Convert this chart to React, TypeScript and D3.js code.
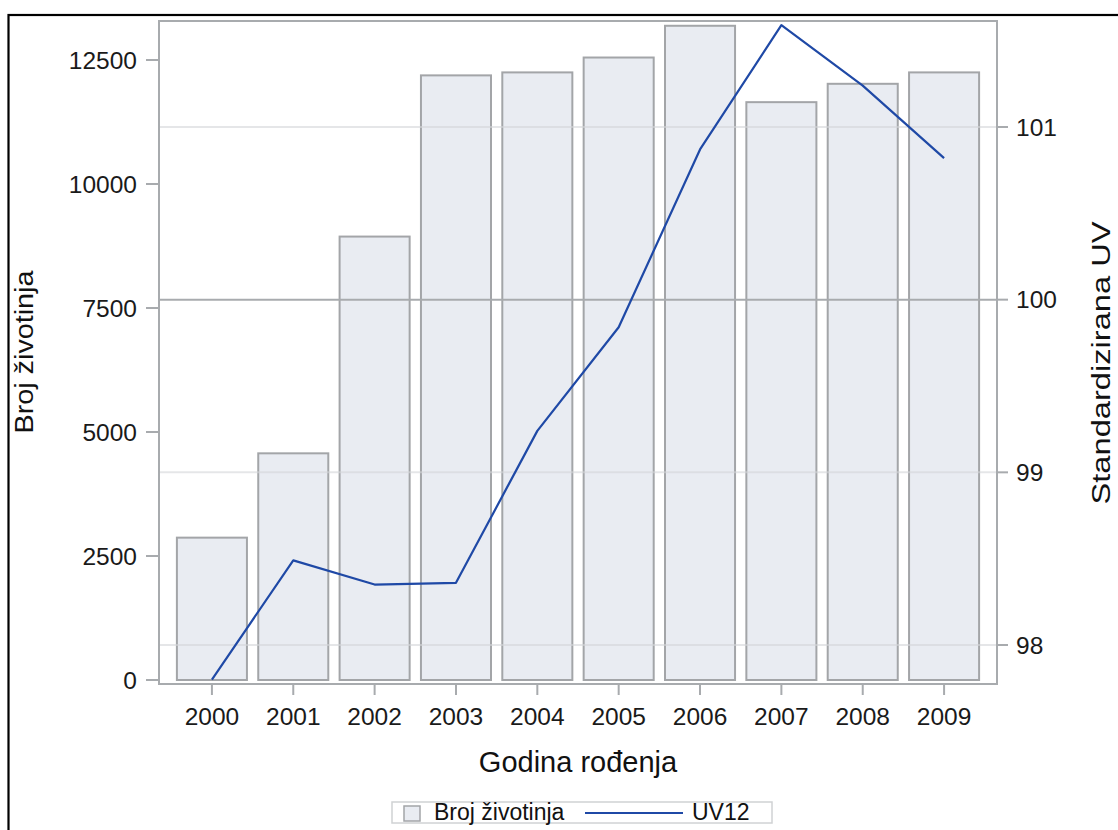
import React from "react";
import * as d3 from "d3";

const years = ["2000", "2001", "2002", "2003", "2004", "2005", "2006", "2007", "2008", "2009"];
const counts = [2870, 4570, 8940, 12190, 12250, 12550, 13190, 11650, 12020, 12250];
const uv12 = [97.8, 98.49, 98.35, 98.36, 99.24, 99.84, 100.87, 101.59, 101.24, 100.82];
const leftTicks = [0, 2500, 5000, 7500, 10000, 12500];
const rightTicks = [98, 99, 100, 101];

const W = 1118;
const H = 830;
const plotL = 159;
const plotR = 997;
const plotT = 21;
const plotB = 684;
const FONT = "'Liberation Sans', Arial, sans-serif";
const BAR_FILL = "#E9ECF2";
const BAR_STROKE = "#A3A5A8";
const LINE_COLOR = "#1F49A6";

export default function App() {
  const x = d3.scaleBand<string>().domain(years).range([plotL, plotR]).paddingInner(0.139).paddingOuter(0.22);
  const yL = d3.scaleLinear().domain([0, 12500]).range([680, 60]);
  const yR = d3.scaleLinear().domain([98, 101]).range([645, 127]);
  const cx = (y: string) => (x(y) as number) + x.bandwidth() / 2;
  const line = d3
    .line<number>()
    .x((_, i) => cx(years[i]))
    .y((d) => yR(d));

  return (
    <svg width={W} height={H} style={{ position: "absolute", left: 0, top: 0, background: "#fff" }} fontFamily={FONT}>
      <rect x={8.5} y={15} width={1300} height={1000} fill="#fff" stroke="#000" strokeWidth={2.2} />
      {/* bars */}
      {counts.map((c, i) => (
        <rect
          key={years[i]}
          x={x(years[i]) as number}
          y={yL(c)}
          width={x.bandwidth()}
          height={yL(0) - yL(c)}
          fill={BAR_FILL}
          stroke={BAR_STROKE}
          strokeWidth={2}
        />
      ))}
      {/* grid lines (right axis) */}
      {rightTicks.map((t) => (
        <line
          key={"g" + t}
          x1={plotL}
          x2={plotR}
          y1={yR(t)}
          y2={yR(t)}
          stroke={t === 100 ? "#A8ABAE" : "#D4D6D8"}
          strokeOpacity={t === 100 ? 1 : 0.6}
          strokeWidth={2}
        />
      ))}
      {/* line */}
      <path d={line(uv12) as string} fill="none" stroke={LINE_COLOR} strokeWidth={2.2} strokeLinejoin="round" />
      {/* plot frame */}
      <rect x={plotL} y={plotT} width={plotR - plotL} height={plotB - plotT} fill="none" stroke="#A8ABAE" strokeWidth={2} />
      {/* left axis */}
      {leftTicks.map((t) => (
        <g key={"l" + t}>
          <line x1={146} x2={plotL} y1={yL(t)} y2={yL(t)} stroke="#A8ABAE" strokeWidth={2} />
          <text x={137} y={yL(t)} dy="0.36em" textAnchor="end" fontSize={24.5} fill="#1a1a1a">
            {t}
          </text>
        </g>
      ))}
      {/* right axis */}
      {rightTicks.map((t) => (
        <g key={"r" + t}>
          <line x1={plotR} x2={1008} y1={yR(t)} y2={yR(t)} stroke="#A8ABAE" strokeWidth={2} />
          <text x={1016} y={yR(t)} dy="0.36em" textAnchor="start" fontSize={24.5} fill="#1a1a1a">
            {t}
          </text>
        </g>
      ))}
      {/* x axis */}
      {years.map((yv) => (
        <g key={"x" + yv}>
          <line x1={cx(yv)} x2={cx(yv)} y1={plotB} y2={695} stroke="#A8ABAE" strokeWidth={2} />
          <text x={cx(yv)} y={725} textAnchor="middle" fontSize={24.5} fill="#1a1a1a">
            {yv}
          </text>
        </g>
      ))}
      {/* axis titles */}
      <text x={(plotL + plotR) / 2} y={772} textAnchor="middle" fontSize={29} fill="#111">
        Godina rođenja
      </text>
      <text
        transform="translate(33,352) rotate(-90)"
        textAnchor="middle"
        fontSize={25}
        fill="#111"
        textLength={163}
        lengthAdjust="spacingAndGlyphs"
      >
        Broj životinja
      </text>
      <text
        transform="translate(1110,363) rotate(-90)"
        textAnchor="middle"
        fontSize={25}
        fill="#111"
        textLength={283}
        lengthAdjust="spacingAndGlyphs"
      >
        Standardizirana UV
      </text>
      {/* legend */}
      <rect x={392} y={802} width={380} height={21} fill="#fff" stroke="#D0D2D4" strokeWidth={1.5} />
      <rect x={404} y={806} width={16} height={15} fill={BAR_FILL} stroke={BAR_STROKE} strokeWidth={1.5} />
      <text x={434} y={820} fontSize={23} fill="#111">
        Broj životinja
      </text>
      <line x1={585} x2={683} y1={813} y2={813} stroke={LINE_COLOR} strokeWidth={2} />
      <text x={692} y={820} fontSize={23} fill="#111">
        UV12
      </text>
    </svg>
  );
}
